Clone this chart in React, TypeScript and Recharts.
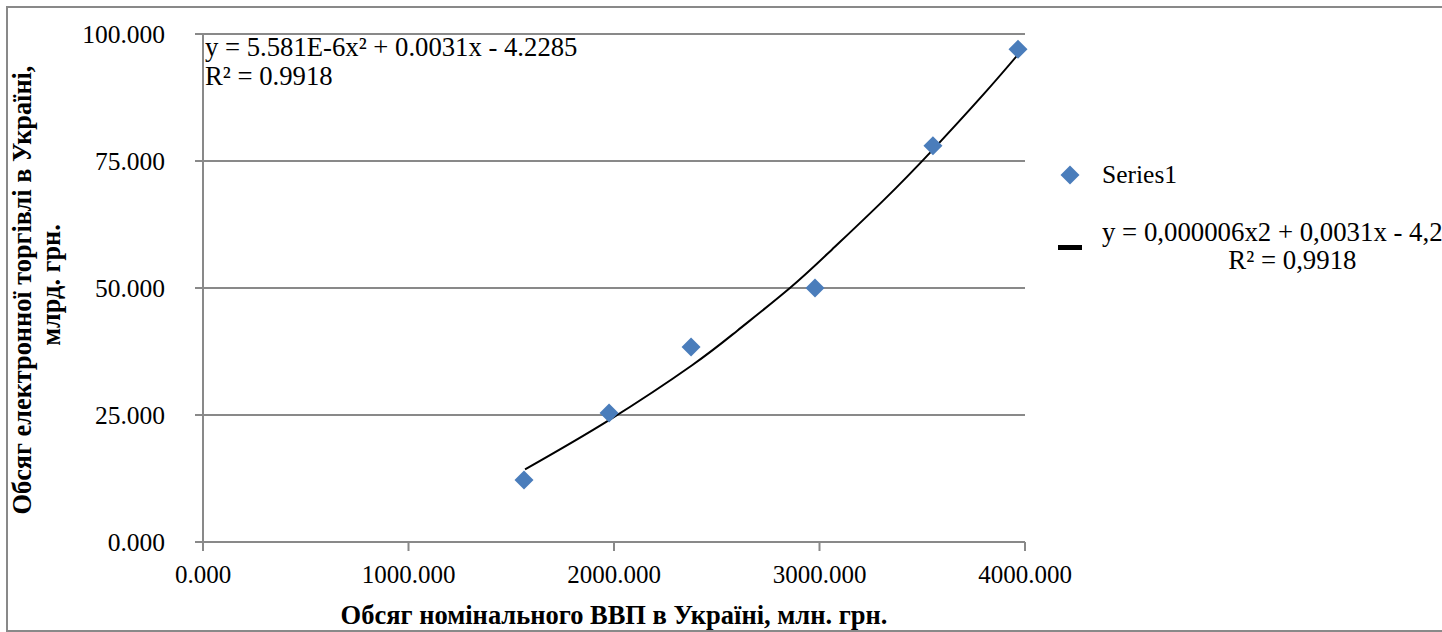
import React from 'react';
import { ComposedChart, Scatter, Line, XAxis, YAxis, CartesianGrid } from 'recharts';

// Observed points: nominal GDP (mln UAH) vs e-commerce volume (bln UAH)
const gdpValues = [1562, 1976, 2375, 2978, 3552, 3966];
const ecomValues = [12.2, 25.4, 38.4, 50.0, 78.0, 97.0];

// Polynomial trendline
const trendGdp = [1567, 1976, 2380, 2600, 2856, 3059, 3310, 3551, 3800, 3967];
const trendEcom = [14.3, 24.0, 34.8, 41.6, 50.0, 57.5, 67.2, 77.2, 88.2, 96.0];

const xTicks = [0, 1000, 2000, 3000, 4000];
const yTicks = [0, 25, 50, 75, 100];

const seriesName = 'Series1';
const trendEqLegend = 'y = 0,000006x2 + 0,0031x - 4,2285';
const trendR2Legend = 'R² = 0,9918';
const trendEqPlot = 'y = 5.581E-6x² + 0.0031x - 4.2285';
const trendR2Plot = 'R² = 0.9918';

const xTitle = 'Обсяг номінального ВВП в Україні, млн. грн.';
const yTitle1 = 'Обсяг електронної торгівлі в Україні,';
const yTitle2 = 'млрд. грн.';

const points = gdpValues.map((x, i) => ({ x, y: ecomValues[i] }));
const trend = trendGdp.map((x, i) => ({ x, y: trendEcom[i] }));

const FONT = '"Liberation Serif", "Times New Roman", serif';
const GRAY = '#898989';
const BLUE = '#4a7dbb';

const Diamond = (props: any) => {
  const { cx, cy } = props;
  if (cx == null || cy == null) return null;
  const r = 9.5;
  return (
    <polygon
      points={`${cx},${cy - r} ${cx + r},${cy} ${cx},${cy + r} ${cx - r},${cy}`}
      fill={BLUE}
    />
  );
};

const fmt = (v: number) => v.toFixed(3);

export default function App() {
  return (
    <div
      style={{
        position: 'absolute',
        left: 0,
        top: 0,
        width: 1442,
        height: 632,
        overflow: 'hidden',
        background: '#fff',
        fontFamily: FONT,
      }}
    >
      <div
        style={{
          position: 'absolute',
          left: 6,
          top: 6,
          width: 1500,
          height: 622,
          borderLeft: `2px solid ${GRAY}`,
          borderTop: `2px solid ${GRAY}`,
          borderBottom: `2px solid ${GRAY}`,
        }}
      />
      <div style={{ position: 'absolute', left: 0, top: 0 }}>
        <ComposedChart width={1442} height={632} margin={{ top: 34, right: 417, bottom: 50, left: 83 }}>
          <CartesianGrid vertical={false} stroke={GRAY} strokeWidth={2} />
          <XAxis
            type="number"
            dataKey="x"
            domain={[0, 4000]}
            ticks={xTicks}
            tickFormatter={fmt}
            height={40}
            axisLine={{ stroke: GRAY, strokeWidth: 2 }}
            tickLine={{ stroke: GRAY, strokeWidth: 2 }}
            tickSize={9}
            tickMargin={14}
            tick={{ fill: '#000', fontSize: 25, fontFamily: FONT }}
            label={{
              content: () => (
                <text
                  x={614}
                  y={615}
                  dy="0.35em"
                  textAnchor="middle"
                  fontFamily={FONT}
                  fontWeight="bold"
                  fontSize={26.5}
                  fill="#000"
                >
                  {xTitle}
                </text>
              ),
            }}
          />
          <YAxis
            type="number"
            dataKey="y"
            domain={[0, 100]}
            ticks={yTicks}
            tickFormatter={fmt}
            width={120}
            axisLine={{ stroke: GRAY, strokeWidth: 2 }}
            tickLine={{ stroke: GRAY, strokeWidth: 2 }}
            tickSize={8}
            tickMargin={30}
            tick={{ fill: '#000', fontSize: 25.5, fontFamily: FONT }}
            label={{
              content: () => (
                <g>
                  <text
                    transform="translate(22,290) rotate(-90)"
                    dy="0.35em"
                    textAnchor="middle"
                    fontFamily={FONT}
                    fontWeight="bold"
                    fontSize={26.3}
                    fill="#000"
                  >
                    {yTitle1}
                  </text>
                  <text
                    transform="translate(51,285) rotate(-90)"
                    dy="0.35em"
                    textAnchor="middle"
                    fontFamily={FONT}
                    fontWeight="bold"
                    fontSize={26.3}
                    fill="#000"
                  >
                    {yTitle2}
                  </text>
                </g>
              ),
            }}
          />
          <Line
            data={trend}
            dataKey="y"
            type="natural"
            stroke="#000"
            strokeWidth={2}
            dot={false}
            activeDot={false}
            isAnimationActive={false}
            name="trend"
          />
          <Scatter
            data={points}
            dataKey="y"
            name={seriesName}
            fill={BLUE}
            shape={Diamond}
            isAnimationActive={false}
          />
        </ComposedChart>
      </div>

      {/* trendline equation inside the plot */}
      <div
        style={{
          position: 'absolute',
          left: 205,
          top: 33,
          fontSize: 26.7,
          lineHeight: '29px',
          color: '#000',
          whiteSpace: 'nowrap',
        }}
      >
        <div>{trendEqPlot}</div>
        <div>{trendR2Plot}</div>
      </div>

      {/* legend */}
      <svg style={{ position: 'absolute', left: 1050, top: 160 }} width={40} height={100}>
        <polygon points="20,5.5 29.5,15 20,24.5 10.5,15" fill={BLUE} />
        <rect x={8} y={85} width={24} height={5} fill="#000" />
      </svg>
      <div
        style={{
          position: 'absolute',
          left: 1102,
          top: 160,
          fontSize: 25.5,
          lineHeight: '30px',
          color: '#000',
          whiteSpace: 'nowrap',
        }}
      >
        {seriesName}
      </div>
      <div
        style={{
          position: 'absolute',
          left: 1102,
          top: 219,
          fontSize: 26.8,
          lineHeight: '27.5px',
          color: '#000',
          whiteSpace: 'nowrap',
          textAlign: 'center',
        }}
      >
        <div>{trendEqLegend}</div>
        <div>{trendR2Legend}</div>
      </div>
    </div>
  );
}
